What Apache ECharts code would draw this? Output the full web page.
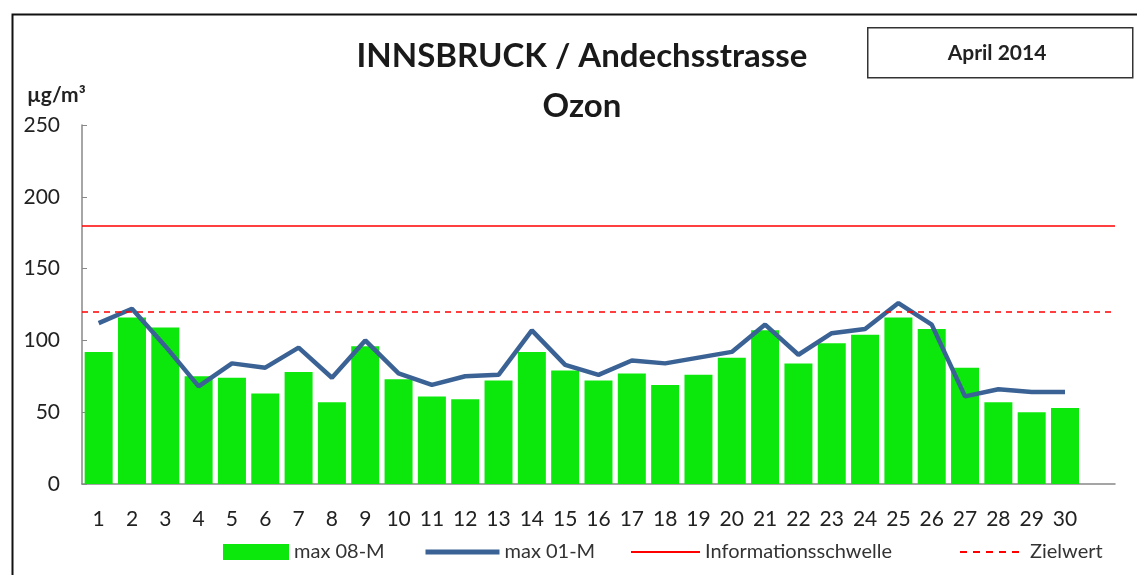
<!DOCTYPE html>
<html>
<head>
<meta charset="utf-8">
<script src="https://cdn.jsdelivr.net/npm/echarts@6/dist/echarts.min.js"></script>
<style>
  html, body { margin: 0; padding: 0; background: #fff; }
  #chart { width: 1137px; height: 575px; }
</style>
</head>
<body>
<div id="chart"></div>
<script>
// days of April 2014 (plus one empty slot at the end, as in the original sheet)
const days = ['1', '2', '3', '4', '5', '6', '7', '8', '9', '10', '11', '12', '13', '14', '15',
  '16', '17', '18', '19', '20', '21', '22', '23', '24', '25', '26', '27', '28', '29', '30', '']
const max08M = [92, 116, 109, 75, 74, 63, 78, 57, 96, 73, 61, 59, 72, 92, 79,
  72, 77, 69, 76, 88, 107, 84, 98, 104, 116, 108, 81, 57, 50, 53]
const max01M = [112, 122, 96, 68, 84, 81, 95, 74, 100, 77, 69, 75, 76, 107, 83,
  76, 86, 84, 88, 92, 111, 90, 105, 108, 126, 111, 61, 66, 64, 64]
const infoSchwelle = 180
const zielwert = 120

const font = 'Lato, "Open Sans", sans-serif'
const hideSymbol = { color: 'transparent', borderWidth: 0 }

// one legend per entry so each can sit where it does in the original
function legendAt(left, width, item) {
  return {
    bottom: 8,
    left: left,
    itemWidth: width,
    itemHeight: 16,
    textStyle: { fontSize: 20, color: '#333' },
    data: [item]
  }
}

const chart = echarts.init(document.getElementById('chart'))
chart.setOption({
  animation: false,
  textStyle: { fontFamily: font },
  title: {
    text: 'INNSBRUCK / Andechsstrasse\nOzon',
    left: 577,
    top: 26,
    textAlign: 'center',
    textStyle: { fontSize: 33, fontWeight: 'bold', color: '#1a1a1a', lineHeight: 50 }
  },
  graphic: [
    { type: 'rect', left: 10, top: 12, shape: { width: 1140, height: 580 },
      style: { fill: 'none', stroke: '#111', lineWidth: 2 } },
    { type: 'rect', left: 867, top: 27, shape: { width: 265, height: 50 },
      style: { fill: '#fff', stroke: '#333', lineWidth: 1.5 } },
    { type: 'text', x: 997, y: 53, style: { text: 'April 2014', font: 'bold 21px ' + font,
      fill: '#222', align: 'center', verticalAlign: 'middle' } },
    { type: 'text', x: 27, y: 95, style: { text: 'µg/m³', font: 'bold 21px ' + font,
      fill: '#222', verticalAlign: 'middle' } }
  ],
  legend: [
    legendAt(218, 66, { name: 'max 08-M', icon: 'rect' }),
    legendAt(418, 74, { name: 'max 01-M', itemStyle: hideSymbol, lineStyle: { width: 5 } }),
    legendAt(625, 69, { name: 'Informationsschwelle', itemStyle: hideSymbol, lineStyle: { width: 2 } }),
    legendAt(954, 65, { name: 'Zielwert', itemStyle: hideSymbol, lineStyle: { width: 2 } })
  ],
  grid: { left: 82, right: 22, top: 125, bottom: 91 },
  xAxis: {
    type: 'category',
    data: days,
    axisLine: { lineStyle: { color: '#888', width: 1.5 } },
    axisTick: { show: false },
    axisLabel: { interval: 0, fontSize: 21, color: '#222', margin: 25 }
  },
  yAxis: {
    type: 'value',
    min: 0,
    max: 250,
    interval: 50,
    axisLine: { show: true, lineStyle: { color: '#888', width: 1.5 } },
    axisTick: { show: true, inside: true, length: 5, lineStyle: { color: '#888' } },
    splitLine: { show: false },
    axisLabel: { fontSize: 21, color: '#222', margin: 22 }
  },
  series: [
    {
      name: 'max 08-M',
      type: 'bar',
      data: max08M,
      barCategoryGap: '16%',
      itemStyle: { color: '#0ce80c' }
    },
    {
      name: 'max 01-M',
      type: 'line',
      data: max01M,
      symbol: 'none',
      lineStyle: { color: '#3b6294', width: 4.5 },
      itemStyle: { color: '#3b6294' }
    },
    {
      name: 'Informationsschwelle',
      type: 'line',
      data: [],
      symbol: 'none',
      lineStyle: { color: '#ff0000', width: 1.5 },
      itemStyle: { color: '#ff0000' },
      markLine: {
        silent: true,
        symbol: 'none',
        label: { show: false },
        lineStyle: { color: '#ff0000', width: 1.5, type: 'solid' },
        data: [{ yAxis: infoSchwelle }]
      }
    },
    {
      name: 'Zielwert',
      type: 'line',
      data: [],
      symbol: 'none',
      lineStyle: { color: '#ff0000', width: 1.5, type: [7, 6] },
      itemStyle: { color: '#ff0000' },
      markLine: {
        silent: true,
        symbol: 'none',
        label: { show: false },
        lineStyle: { color: '#ff0000', width: 1.5, type: [6, 5] },
        data: [{ yAxis: zielwert }]
      }
    }
  ]
})
</script>
</body>
</html>
